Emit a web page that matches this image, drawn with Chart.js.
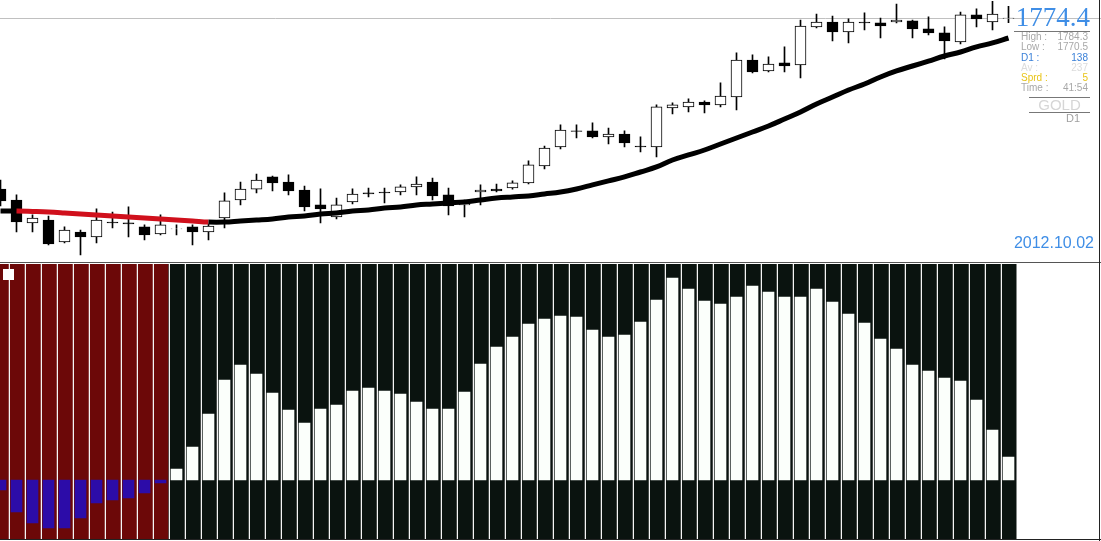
<!DOCTYPE html>
<html>
<head>
<meta charset="utf-8">
<script src="https://cdn.jsdelivr.net/npm/chart.js@4.4.0/dist/chart.umd.min.js"></script>
<style>
  body { margin: 0; background: #fff; width: 1101px; height: 541px; overflow: hidden; position: relative; font-family: Arial, "Liberation Sans", sans-serif; }
  canvas { position: absolute; }
  #priceChart { left: -8px; top: 0; }
  #histChart { left: -8px; top: 264px; }
  .abs { position: absolute; white-space: nowrap; }
  .hline { position: absolute; height: 1px; }
  .row { position: absolute; left: 1021px; width: 67px; height: 10px; font-size: 10px; line-height: 10px; }
  .row span { position: absolute; top: 0; }
  .row .v { right: 0; }
</style>
</head>
<body>
<canvas id="priceChart" width="1109" height="262"></canvas>
<canvas id="histChart" width="1109" height="275"></canvas>

<!-- panel frame -->
<div class="hline" style="left:0; top:262px; width:1101px; background:#555;"></div>
<div class="hline" style="left:0; top:539px; width:1101px; background:#222;"></div>
<div class="abs" style="left:1099px; top:0; width:1px; height:541px; background:#222;"></div>
<div class="abs" style="left:3px; top:269px; width:11px; height:11px; background:#fff;"></div>

<!-- info block -->
<div class="abs" style="left:1010px; top:4px; width:80px; text-align:right; font-family:'Liberation Serif', serif; font-size:27px; line-height:27px; color:#3f8ee6;">1774.4</div>
<div class="hline" style="left:1014px; top:31px; width:76px; background:#777;"></div>
<div class="row" style="top:32px; color:#a8a8a8;"><span>High :</span><span class="v">1784.3</span></div>
<div class="row" style="top:42px; color:#a8a8a8;"><span>Low :</span><span class="v">1770.5</span></div>
<div class="row" style="top:52.5px; color:#3a80d8;"><span>D1 :</span><span class="v">138</span></div>
<div class="row" style="top:62.5px; color:#dcdcdc;"><span>Av :</span><span class="v">237</span></div>
<div class="row" style="top:73px; color:#e8c418;"><span>Sprd :</span><span class="v">5</span></div>
<div class="row" style="top:83px; color:#a8a8a8;"><span>Time :</span><span class="v">41:54</span></div>
<div class="hline" style="left:1029px; top:97px; width:61px; background:#777;"></div>
<div class="abs" style="left:1029px; top:97px; width:61px; text-align:center; font-size:15px; line-height:15px; color:#d6d6d6;">GOLD</div>
<div class="hline" style="left:1029px; top:112px; width:61px; background:#777;"></div>
<div class="abs" style="left:1029px; top:113px; width:51px; text-align:right; font-size:11px; line-height:11px; color:#a0a0a0;">D1</div>
<div class="abs" style="left:1000px; top:234.5px; width:94px; text-align:right; font-size:16px; line-height:16px; color:#3f8ee6;">2012.10.02</div>

<script>
// GOLD D1, 2012.07.05 - 2012.10.02
const dates = [
  '2012.07.05', '2012.07.06', '2012.07.09', '2012.07.10', '2012.07.11', '2012.07.12', '2012.07.13',
  '2012.07.16', '2012.07.17', '2012.07.18', '2012.07.19', '2012.07.20', '2012.07.23', '2012.07.24',
  '2012.07.25', '2012.07.26', '2012.07.27', '2012.07.30', '2012.07.31', '2012.08.01', '2012.08.02',
  '2012.08.03', '2012.08.06', '2012.08.07', '2012.08.08', '2012.08.09', '2012.08.10', '2012.08.13',
  '2012.08.14', '2012.08.15', '2012.08.16', '2012.08.17', '2012.08.20', '2012.08.21', '2012.08.22',
  '2012.08.23', '2012.08.24', '2012.08.27', '2012.08.28', '2012.08.29', '2012.08.30', '2012.08.31',
  '2012.09.03', '2012.09.04', '2012.09.05', '2012.09.06', '2012.09.07', '2012.09.10', '2012.09.11',
  '2012.09.12', '2012.09.13', '2012.09.14', '2012.09.17', '2012.09.18', '2012.09.19', '2012.09.20',
  '2012.09.21', '2012.09.24', '2012.09.25', '2012.09.26', '2012.09.27', '2012.09.28', '2012.10.01',
  '2012.10.02'
];

const open = [
  1629.0, 1619.7, 1600.2, 1602.7, 1584.0, 1592.5, 1588.3, 1601.0, 1600.2, 1596.8,
  1590.8, 1595.1, 1596.8, 1592.5, 1604.4, 1619.7, 1629.0, 1639.3, 1635.0, 1628.2,
  1615.5, 1605.3, 1618.0, 1625.7, 1626.5, 1626.5, 1630.8, 1635.0, 1624.0, 1615.5,
  1626.5, 1629.0, 1629.9, 1634.2, 1648.6, 1664.8, 1678.4, 1678.4, 1673.3, 1675.8,
  1665.6, 1664.8, 1697.9, 1698.8, 1703.0, 1700.5, 1707.3, 1738.7, 1729.4, 1736.2,
  1734.5, 1766.8, 1771.0, 1762.5, 1771.0, 1770.2, 1771.0, 1771.9, 1765.1, 1761.7,
  1754.0, 1777.0, 1771.0, 1774.0
];
const high = [
  1636.7, 1624.0, 1607.0, 1606.1, 1596.8, 1594.2, 1612.1, 1609.5, 1613.8, 1598.5,
  1607.0, 1598.5, 1598.5, 1599.3, 1625.7, 1635.0, 1641.8, 1640.1, 1641.0, 1631.6,
  1629.1, 1621.4, 1629.1, 1629.9, 1629.9, 1632.5, 1639.3, 1638.4, 1629.9, 1619.7,
  1632.5, 1633.3, 1635.9, 1652.9, 1665.6, 1683.5, 1683.5, 1685.2, 1680.9, 1678.4,
  1673.3, 1700.5, 1702.2, 1705.6, 1703.9, 1719.2, 1744.7, 1743.0, 1741.3, 1749.8,
  1772.7, 1777.8, 1776.1, 1773.6, 1778.7, 1774.4, 1786.3, 1772.7, 1775.3, 1766.8,
  1779.5, 1782.1, 1788.5, 1784.3
];
const low = [
  1614.6, 1592.5, 1592.5, 1581.5, 1583.2, 1573.0, 1583.2, 1595.9, 1588.3, 1585.7,
  1590.0, 1590.0, 1581.5, 1585.7, 1595.9, 1615.5, 1625.7, 1627.4, 1624.0, 1610.4,
  1600.2, 1603.6, 1616.3, 1622.3, 1617.2, 1624.0, 1624.0, 1619.7, 1607.0, 1605.3,
  1615.5, 1626.5, 1629.0, 1633.3, 1646.1, 1663.1, 1672.4, 1672.4, 1667.3, 1664.8,
  1660.5, 1656.3, 1692.8, 1694.5, 1693.7, 1698.8, 1696.2, 1727.7, 1728.5, 1728.5,
  1723.4, 1765.9, 1754.9, 1753.2, 1764.2, 1757.4, 1770.2, 1757.4, 1760.0, 1739.6,
  1752.3, 1766.8, 1764.2, 1770.5
];
const close = [
  1618.9, 1601.0, 1604.4, 1582.3, 1594.2, 1588.3, 1602.7, 1600.2, 1599.3, 1590.0,
  1598.5, 1595.3, 1592.5, 1597.6, 1618.9, 1629.0, 1636.7, 1634.2, 1627.4, 1613.8,
  1612.1, 1615.5, 1624.8, 1624.8, 1625.7, 1630.8, 1633.3, 1623.1, 1614.6, 1616.3,
  1628.2, 1627.4, 1634.2, 1649.5, 1663.9, 1679.2, 1677.9, 1673.3, 1675.8, 1668.2,
  1664.8, 1698.8, 1700.5, 1703.0, 1700.5, 1708.1, 1738.7, 1728.5, 1735.3, 1733.6,
  1767.6, 1771.0, 1762.5, 1771.0, 1770.2, 1767.6, 1772.7, 1765.1, 1761.7, 1754.9,
  1777.0, 1773.6, 1777.8, 1774.4
];

// moving average (red while falling)
const maValues = [
  1610.4, 1610.4, 1610.0, 1609.5, 1608.7, 1607.8, 1607.0, 1606.1, 1605.3, 1604.4,
  1603.6, 1602.7, 1601.9, 1601.0, 1601.0, 1601.9, 1602.7, 1603.6, 1605.3, 1606.1,
  1607.8, 1608.7, 1610.4, 1611.2, 1612.9, 1613.8, 1615.5, 1616.3, 1617.2, 1618.0,
  1619.7, 1621.4, 1622.3, 1623.1, 1624.8, 1626.5, 1629.1, 1632.5, 1635.9, 1639.3,
  1643.5, 1647.8, 1653.7, 1658.0, 1662.2, 1667.3, 1672.4, 1677.5, 1682.6, 1688.5,
  1694.5, 1701.3, 1707.2, 1713.2, 1718.3, 1724.3, 1729.4, 1733.6, 1737.8, 1742.1,
  1745.5, 1749.8, 1753.2, 1757.4
];

// oscillator histogram
const histValues = [
  -10, -32, -43, -48, -48, -38, -23, -20, -18, -13,
  -3, 11, 33, 66, 100, 115, 106, 87, 70, 57,
  71, 75, 89, 92, 89, 86, 78, 71, 71, 88,
  116, 133, 143, 156, 161, 164, 163, 150, 143, 145,
  158, 180, 202, 191, 179, 176, 183, 194, 188, 183,
  183, 191, 178, 166, 157, 141, 131, 115, 109, 102,
  99, 80, 50, 23
];

const lastPrice = 1774.4;

const bodies = open.map((o, i) => [o, close[i]]);
const wicks = low.map((l, i) => [l, high[i]]);
const bodyColors = open.map((o, i) => close[i] >= o ? '#ffffff' : '#000000');

// gray line at current price
const priceLine = {
  id: 'priceLine',
  beforeDatasetsDraw(chart) {
    const ctx = chart.ctx;
    const y = Math.round(chart.scales.y.getPixelForValue(lastPrice)) + 0.5;
    ctx.save();
    ctx.strokeStyle = '#c0c0c0';
    ctx.lineWidth = 1;
    ctx.beginPath();
    ctx.moveTo(8, y);
    ctx.lineTo(chart.width, y);
    ctx.stroke();
    ctx.restore();
  }
};

new Chart(document.getElementById('priceChart'), {
  type: 'bar',
  data: {
    labels: dates,
    datasets: [
      {
        type: 'line',
        data: maValues,
        borderColor: '#000',
        borderWidth: 5,
        pointRadius: 0,
        tension: 0.4,
        order: 0,
        segment: {
          borderColor: c => maValues[c.p1DataIndex] < maValues[c.p0DataIndex] ? '#d0101c' : '#000'
        }
      },
      {
        data: bodies,
        grouped: false,
        barThickness: 11,
        backgroundColor: bodyColors,
        borderColor: '#000',
        borderWidth: 1,
        borderSkipped: false,
        order: 1
      },
      {
        data: wicks,
        grouped: false,
        barThickness: 1,
        backgroundColor: '#000',
        order: 2
      }
    ]
  },
  options: {
    responsive: false,
    animation: false,
    devicePixelRatio: 1,
    layout: { padding: { left: 0.5, right: 84.5, top: 0, bottom: 0 } },
    plugins: { legend: { display: false }, tooltip: { enabled: false } },
    scales: {
      x: { display: false, offset: true },
      y: { display: false, min: 1567.0, max: 1789.7 }
    }
  },
  plugins: [priceLine]
});

// red / dark column backgrounds with white separators
const columnBg = {
  id: 'columnBg',
  beforeDatasetsDraw(chart) {
    const ctx = chart.ctx;
    const xs = chart.scales.x;
    const area = chart.chartArea;
    const w = xs.getPixelForValue(1) - xs.getPixelForValue(0);
    ctx.save();
    histValues.forEach((v, i) => {
      const cx = xs.getPixelForValue(i);
      ctx.fillStyle = v < 0 ? '#6c0808' : '#0a130f';
      ctx.fillRect(cx - w / 2, area.top, w, area.bottom - area.top);
    });
    ctx.fillStyle = '#f4f4f4';
    histValues.forEach((v, i) => {
      if (i === 0) return;
      const cx = xs.getPixelForValue(i);
      ctx.fillRect(Math.round(cx - w / 2), area.top, 1, area.bottom - area.top);
    });
    ctx.restore();
  }
};

new Chart(document.getElementById('histChart'), {
  type: 'bar',
  data: {
    labels: dates,
    datasets: [{
      data: histValues,
      backgroundColor: histValues.map(v => v < 0 ? '#2c0ca8' : '#fbfffb'),
      barThickness: 11,
      borderWidth: 0
    }]
  },
  options: {
    responsive: false,
    animation: false,
    devicePixelRatio: 1,
    layout: { padding: { left: 0.5, right: 84.5, top: 0, bottom: 0 } },
    plugins: { legend: { display: false }, tooltip: { enabled: false } },
    scales: {
      x: { display: false, offset: true },
      y: { display: false, min: -59, max: 216 }
    }
  },
  plugins: [columnBg]
});
</script>
</body>
</html>
